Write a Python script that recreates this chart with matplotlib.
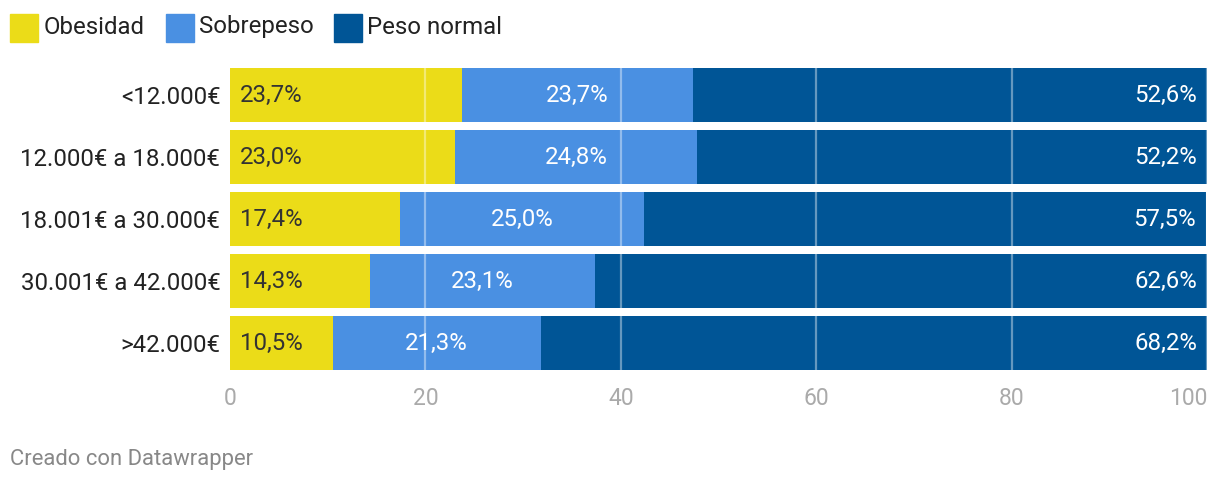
import numpy as np
import matplotlib.pyplot as plt
from matplotlib.patches import Rectangle

plt.rcParams['font.family'] = ['Roboto', 'DejaVu Sans']

# Data
categories = ['<12.000€', '12.000€ a 18.000€', '18.001€ a 30.000€',
              '30.001€ a 42.000€', '>42.000€']
series_names = ['Obesidad', 'Sobrepeso', 'Peso normal']
obesidad = [23.7, 23.0, 17.4, 14.3, 10.5]
sobrepeso = [23.7, 24.8, 25.0, 23.1, 21.3]
peso_normal = [52.6, 52.2, 57.5, 62.6, 68.2]
ticks = [0, 20, 40, 60, 80, 100]

colors = ['#ebdc18', '#4a90e2', '#005596']
text_colors = ['#333333', 'white', 'white']
fs = 17.3

W, H = 1220, 484
fig = plt.figure(figsize=(W / 100, H / 100), dpi=100)

# axes spans bars area: x 230..1207, y 68..370 (pixels from top)
ax = fig.add_axes([230 / W, 1 - 370 / H, (1207 - 230) / W, (370 - 68) / H])

bar_h = 54 / 62
y = np.arange(len(categories))
values = [obesidad, sobrepeso, peso_normal]
left = np.zeros(len(categories))
for i, vals in enumerate(values):
    vals = np.array(vals)
    ax.barh(y, vals, left=left, height=bar_h, color=colors[i], zorder=1)
    for j, v in enumerate(vals):
        lbl = f'{v:.1f}%'.replace('.', ',')
        if i == 0:
            ax.text(left[j] + 1.0, y[j], lbl, ha='left', va='center',
                    color=text_colors[i], fontsize=fs, zorder=3)
        elif i == 1:
            ax.text(left[j] + v / 2, y[j], lbl, ha='center', va='center',
                    color=text_colors[i], fontsize=fs, zorder=3)
        else:
            ax.text(left[j] + v - 1.0, y[j], lbl, ha='right', va='center',
                    color=text_colors[i], fontsize=fs, zorder=3)
    left += vals

# grid lines over the bars
for t in ticks[1:]:
    ax.axvline(t, color='white', alpha=0.4, lw=1.6, zorder=2)

ax.set_xlim(0, 100)
ax.set_ylim(len(categories) - 1 + bar_h / 2, -bar_h / 2)
ax.set_yticks(y)
ax.set_yticklabels(categories, fontsize=fs, color='#222222')
ax.tick_params(axis='y', length=0, pad=7)
ax.set_xticks(ticks)
ax.set_xticklabels([str(t) for t in ticks], fontsize=16.5, color='#aaaaaa')
ax.tick_params(axis='x', length=0, pad=12)
ax.get_xticklabels()[-1].set_ha('right')
for s in ax.spines.values():
    s.set_visible(False)

# legend
leg_items = [(10, 44), (166, 199), (334, 367)]
for (sx, tx), name, c in zip(leg_items, series_names, colors):
    fig.patches.append(Rectangle((sx / W, 1 - 42 / H), 28 / W, 28 / H,
                                 transform=fig.transFigure, color=c))
    fig.text(tx / W, 1 - 27 / H, name, ha='left', va='center',
             fontsize=fs, color='#222222')

fig.text(10 / W, 1 - 459 / H, 'Creado con Datawrapper', ha='left',
         va='center', fontsize=15.8, color='#888888')

fig.savefig('out.png', dpi=100)
